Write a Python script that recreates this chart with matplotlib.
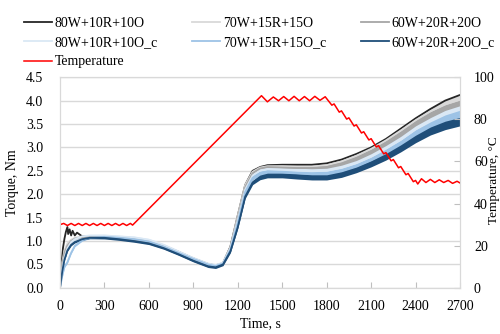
import numpy as np
import matplotlib.pyplot as plt

plt.rcParams['font.family'] = ['Liberation Serif', 'DejaVu Serif']
plt.rcParams['font.size'] = 10

# torque data
t = [0, 15, 30, 50, 75, 100, 150, 200, 300, 400, 500, 600, 700, 800, 900, 1000, 1050, 1100, 1150,
     1200, 1250, 1300, 1350, 1400, 1500, 1600, 1700, 1800, 1900, 2000, 2100, 2200, 2300, 2400,
     2500, 2600, 2700]
band = [0, 0.01, 0.015, 0.02, 0.02, 0.02, 0.02, 0.02, 0.025, 0.025, 0.025, 0.025, 0.025, 0.025,
        0.025, 0.025, 0.025, 0.025, 0.03, 0.03, 0.04, 0.045, 0.05, 0.05, 0.05, 0.055, 0.055, 0.055,
        0.06, 0.06, 0.065, 0.07, 0.075, 0.08, 0.085, 0.09, 0.09]

t_80 = [0, 10, 20, 30, 40, 50, 55, 65, 75, 85, 100, 115, 150, 200, 300, 400, 500, 600, 700, 800,
        900, 1000, 1050, 1100, 1150, 1200, 1250, 1300, 1350, 1400, 1500, 1600, 1700, 1800, 1900,
        2000, 2100, 2200, 2300, 2400, 2500, 2600, 2700]
tq_80 = [0, 0.5, 0.85, 1.05, 1.2, 1.3, 1.15, 1.25, 1.12, 1.22, 1.12, 1.18, 1.1, 1.1, 1.09, 1.06,
         1.03, 0.99, 0.9, 0.77, 0.63, 0.51, 0.48, 0.53, 0.88, 1.55, 2.2, 2.5, 2.58, 2.62, 2.63,
         2.63, 2.63, 2.66, 2.74, 2.86, 3.0, 3.18, 3.4, 3.62, 3.82, 4.0, 4.12]
tq_70 = [0, 0.55, 0.8, 0.95, 1.03, 1.07, 1.1, 1.11, 1.1, 1.07, 1.04, 1.0, 0.9, 0.77, 0.63, 0.51,
         0.48, 0.53, 0.87, 1.55, 2.2, 2.48, 2.57, 2.6, 2.6, 2.59, 2.59, 2.62, 2.7, 2.82, 2.97,
         3.15, 3.36, 3.58, 3.77, 3.92, 4.02]
tq_60 = [0, 0.5, 0.75, 0.9, 1.0, 1.05, 1.08, 1.1, 1.09, 1.06, 1.03, 0.98, 0.89, 0.76, 0.62, 0.5,
         0.47, 0.52, 0.85, 1.5, 2.15, 2.45, 2.55, 2.58, 2.57, 2.56, 2.56, 2.58, 2.65, 2.76, 2.9,
         3.08, 3.28, 3.5, 3.68, 3.82, 3.92]
tq_80c = [0, 0.4, 0.65, 0.85, 0.98, 1.04, 1.1, 1.12, 1.12, 1.1, 1.08, 1.03, 0.92, 0.78, 0.64,
          0.52, 0.49, 0.54, 0.85, 1.45, 2.1, 2.4, 2.5, 2.53, 2.52, 2.5, 2.49, 2.5, 2.56, 2.66,
          2.8, 2.97, 3.16, 3.38, 3.55, 3.7, 3.8]
tq_70c = [0, 0.25, 0.45, 0.55, 0.75, 0.9, 1.02, 1.07, 1.09, 1.07, 1.04, 0.99, 0.88, 0.75, 0.62,
          0.5, 0.47, 0.52, 0.82, 1.4, 2.05, 2.35, 2.45, 2.48, 2.47, 2.45, 2.43, 2.44, 2.5, 2.6,
          2.73, 2.9, 3.08, 3.3, 3.48, 3.62, 3.72]
tq_60c = [0, 0.35, 0.6, 0.8, 0.92, 0.98, 1.04, 1.07, 1.07, 1.04, 1.0, 0.95, 0.85, 0.72, 0.58,
          0.46, 0.44, 0.5, 0.78, 1.3, 1.95, 2.25, 2.36, 2.4, 2.4, 2.38, 2.36, 2.36, 2.42, 2.52,
          2.65, 2.8, 2.98, 3.18, 3.35, 3.47, 3.55]

# temperature
temp_t = [0, 25, 50, 75, 100, 125, 150, 175, 200, 225, 250, 275, 300, 325, 350, 375, 400, 425,
          450, 475, 490, 1360, 1400, 1440, 1475, 1510, 1545, 1580, 1615, 1650, 1685, 1720, 1755,
          1790, 1835, 1850, 1885, 1900, 1935, 1950, 1985, 2000, 2035, 2050, 2085, 2100, 2135,
          2150, 2185, 2200, 2235, 2250, 2285, 2300, 2335, 2350, 2385, 2400, 2415, 2440, 2470,
          2500, 2530, 2560, 2590, 2620, 2650, 2680, 2700]
temp = [30.0, 30.6, 29.6, 30.6, 29.6, 30.6, 29.6, 30.6, 29.6, 30.6, 29.6, 30.6, 29.6, 30.6, 29.6,
        30.6, 29.6, 30.6, 29.6, 30.6, 29.8, 91.2, 88.3, 90.6, 88.8, 90.8, 88.8, 90.9, 88.8, 90.8,
        88.8, 90.9, 89.0, 90.7, 86.7, 87.3, 83.4, 84.0, 80.1, 80.7, 76.8, 77.4, 73.5, 74.1, 70.2,
        70.8, 66.9, 67.5, 63.6, 64.2, 60.3, 60.9, 57.0, 57.6, 53.7, 54.3, 50.4, 51.0, 49.3, 51.8,
        50.0, 51.5, 50.0, 51.3, 50.0, 51.0, 49.6, 50.6, 49.8]

fig = plt.figure(figsize=(5, 3.34), dpi=100)
ax = fig.add_axes([0.12, 0.138, 0.8, 0.631])
ax2 = ax.twinx()

series = [(t_80, tq_80, '#262626', '80W+10R+10O'),
          (t, tq_70, '#d9d9d9', '70W+15R+15O'),
          (t, tq_60, '#a6a6a6', '60W+20R+20O'),
          (t, tq_80c, '#dae8f5', '80W+10R+10O_c'),
          (t, tq_70c, '#9dc3e6', '70W+15R+15O_c'),
          (t, tq_60c, '#1f4e79', '60W+20R+20O_c')]
hw = np.array(band)
h = {}
for tt, v, c, name in series:
    v = np.array(v)
    if len(tt) == len(t):
        ax.fill_between(t, v - hw, v + hw, color=c, lw=0)
    h[name], = ax.plot(tt, v, color=c, lw=1.3, label=name)
h['Temperature'], = ax2.plot(temp_t, temp, color='red', lw=1.1, label='Temperature')

ax.set_xlim(0, 2700)
ax.set_ylim(0, 4.5)
ax2.set_ylim(0, 100)
ax.set_xticks(range(0, 2701, 300))
ax.set_yticks(np.arange(0, 4.51, 0.5))
ax.set_yticklabels(['%.1f' % v for v in np.arange(0, 4.51, 0.5)])
ax2.set_yticks(range(0, 101, 20))
ax.grid(axis='y', color='#d9d9d9', lw=1)
ax.set_axisbelow(True)
for a in (ax, ax2):
    for s in a.spines.values():
        s.set_color('#d9d9d9')
ax.tick_params(axis='x', direction='in', length=4, color='#bfbfbf', pad=9)
ax.tick_params(axis='y', length=0, pad=12)
ax2.tick_params(axis='y', direction='in', length=4, color='#bfbfbf', pad=10)

ax.set_xlabel('Time, s', labelpad=3)
ax.set_ylabel('Torque, Nm', labelpad=5)
fig.text(0.989, 0.46, 'Temperature, °C', rotation=90, ha='center', va='center', fontsize=9.5)

order = ['80W+10R+10O', '80W+10R+10O_c', 'Temperature', '70W+15R+15O', '70W+15R+15O_c',
         '60W+20R+20O', '60W+20R+20O_c']
fig.legend([h[k] for k in order], order, ncol=3, loc='upper left',
           bbox_to_anchor=(0.034, 0.97), frameon=False, borderpad=0, handlelength=2.0,
           handletextpad=0.2, labelspacing=0.45, columnspacing=2.5)

plt.savefig('out.png')
